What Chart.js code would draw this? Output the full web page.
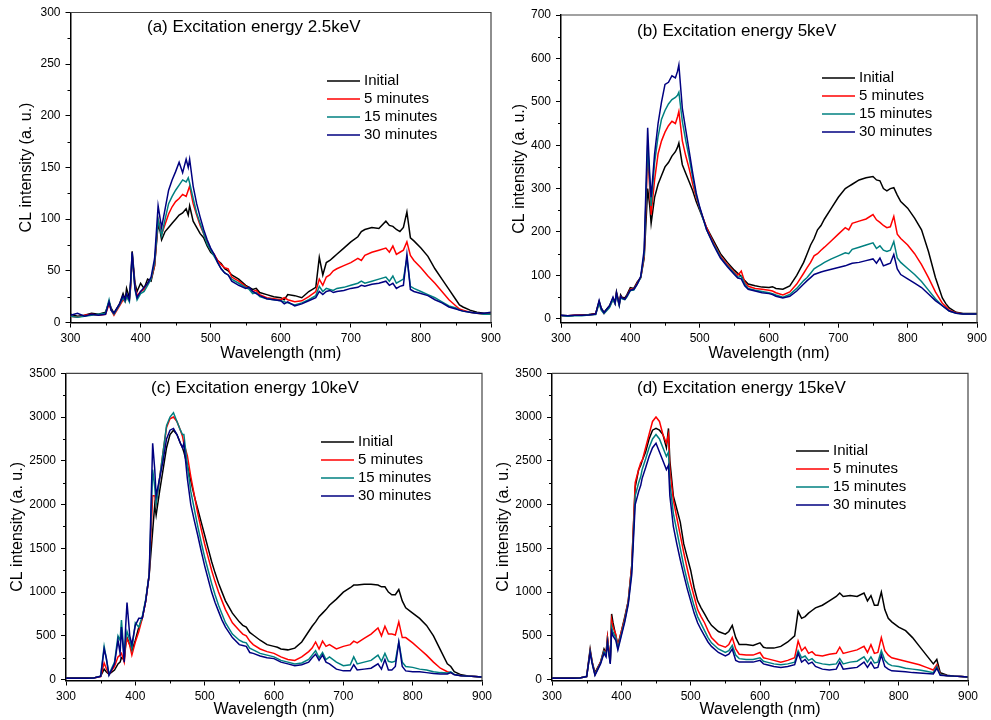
<!DOCTYPE html>
<html>
<head>
<meta charset="utf-8">
<title>CL spectra</title>
<script src="https://cdn.jsdelivr.net/npm/chart.js@4.4.1/dist/chart.umd.min.js"></script>
<style>
  body { margin: 0; background: #fff; }
  #wrap { position: relative; width: 991px; height: 720px; overflow: hidden; background: #fff; }
  #wrap canvas { position: absolute; }
</style>
</head>
<body>
<div id="wrap">
  <canvas id="panelA"></canvas>
  <canvas id="panelB"></canvas>
  <canvas id="panelC"></canvas>
  <canvas id="panelD"></canvas>
</div>
<script>
// Wavelength samples (nm), shared by all four panels
const wavelengths = [
  300, 310, 320, 330, 340, 350, 355, 358, 362, 370,
  375, 378, 380, 384, 386, 388, 392, 395, 400, 405,
  410, 415, 420, 425, 428, 430, 435, 440, 445, 450,
  455, 460, 465, 468, 470, 475, 480, 485, 490, 495,
  500, 505, 510, 515, 520, 525, 530, 540, 550, 555,
  560, 565, 570, 580, 590, 600, 605, 610, 620, 630,
  640, 650, 655, 660, 665, 670, 675, 680, 690, 700,
  710, 715, 720, 730, 740, 750, 755, 760, 765, 770,
  775, 780, 785, 790, 800, 810, 820, 830, 840, 850,
  855, 860, 870, 880, 890, 900
];

const seriesNames = ['Initial', '5 minutes', '15 minutes', '30 minutes'];
const seriesColors = ['#000000', '#ff0000', '#008080', '#000080'];

// tick labels
const xTicks = [300, 400, 500, 600, 700, 800, 900];
const yTicksA = [0, 50, 100, 150, 200, 250, 300];
const yTicksB = [0, 100, 200, 300, 400, 500, 600, 700];
const yTicksCD = [0, 500, 1000, 1500, 2000, 2500, 3000, 3500];

// (a) 2.5 keV
const initialA = [
  8, 6, 7, 9, 8, 10, 20, 14, 9, 18,
  28, 22, 33, 24, 40, 69, 38, 30, 38, 33,
  42, 40, 55, 95, 88, 80, 88, 92, 96, 100,
  104, 106, 110, 104, 113, 98, 92, 86, 82, 74,
  68, 65, 60, 57, 52, 50, 46, 42, 36, 34,
  32, 33, 29, 27, 25, 24, 22, 27, 26, 24,
  30, 34, 63, 46, 58, 60, 63, 66, 72, 78,
  83, 88, 90, 92, 91, 98, 94, 93, 90, 88,
  92, 107, 82, 79, 72, 64, 52, 42, 32, 22,
  17, 15, 12, 10, 9, 9
];
const fiveMinA = [
  6, 5, 7, 8, 7, 8, 18, 12, 7, 16,
  22, 20, 26, 22, 35, 65, 35, 26, 30, 32,
  38, 42, 55, 100, 92, 85, 95, 105, 112, 117,
  120, 124, 122, 128, 132, 115, 104, 94, 86, 78,
  70, 66, 60, 56, 53, 52, 44, 40, 35, 33,
  30, 31, 27, 24, 23, 22, 24, 22, 20, 21,
  25, 30, 42, 36, 44, 46, 50, 52, 55, 58,
  62, 60, 65, 68, 70, 72, 68, 74, 66, 68,
  70, 78, 65, 60, 53, 45, 38, 30, 22, 16,
  13, 12, 10, 9, 8, 8
];
const fifteenMinA = [
  6, 5, 6, 7, 8, 9, 22, 12, 8, 17,
  24, 20, 25, 20, 38, 66, 32, 22, 28, 30,
  36, 42, 58, 100, 90, 84, 100, 115, 122, 128,
  133, 138, 136, 140, 135, 120, 106, 96, 86, 76,
  70, 64, 58, 52, 48, 46, 42, 38, 34, 32,
  28, 29, 25, 23, 22, 21, 20, 19, 17, 19,
  22, 26, 35, 30, 33, 32, 31, 33, 34, 36,
  38, 40, 38, 40, 42, 44, 40, 45, 38, 40,
  42, 62, 35, 33, 30, 27, 24, 20, 16, 14,
  12, 11, 10, 9, 8, 8
];
const thirtyMinA = [
  7, 9, 6, 8, 7, 8, 20, 12, 9, 18,
  26, 22, 28, 22, 42, 68, 33, 24, 30, 34,
  38, 44, 62, 113, 100, 92, 110, 128, 138, 146,
  155, 145, 158, 150, 158, 132, 115, 102, 90, 80,
  72, 66, 58, 52, 48, 46, 40, 36, 33, 34,
  30, 28, 26, 23, 22, 21, 18, 20, 16, 18,
  21, 24, 30, 27, 30, 31, 29, 30, 31, 33,
  34, 36, 35, 37, 38, 40, 36, 38, 33, 35,
  36, 66, 32, 30, 28, 26, 22, 19, 15, 13,
  12, 11, 10, 9, 9, 10
];

// (b) 5 keV
const initialB = [
  8, 7, 8, 9, 10, 12, 40, 25, 15, 30,
  48, 38, 62, 35, 55, 50, 48, 55, 72, 70,
  85, 95, 140, 300, 260, 220, 280, 310, 330, 350,
  360, 375, 385, 395, 405, 355, 335, 315, 295, 270,
  250, 230, 210, 195, 180, 165, 150, 130, 112, 105,
  98, 88, 80, 76, 73, 72, 74, 70, 68, 76,
  100, 130, 150, 170, 185, 205, 215, 230, 255, 280,
  300, 305, 310, 320, 325, 328, 320, 318, 300, 295,
  300, 302, 285, 270, 255, 232, 205, 155, 95, 48,
  35, 25, 15, 12, 12, 12
];
const fiveMinB = [
  7, 7, 8, 8, 9, 11, 38, 22, 12, 28,
  45, 35, 58, 32, 52, 48, 45, 52, 68, 68,
  82, 95, 145, 380, 300, 240, 320, 380, 410, 430,
  445, 455, 450, 465, 478, 410, 375, 345, 310, 280,
  255, 232, 210, 192, 175, 160, 145, 125, 108, 100,
  110, 85, 75, 70, 68, 66, 64, 60, 55, 62,
  80, 105, 118, 130, 145, 150, 158, 165, 180, 195,
  210, 205, 220, 225, 230, 240, 228, 222, 215, 210,
  212, 236, 195, 185, 170, 150, 125, 95, 62, 36,
  28, 20, 14, 11, 11, 11
];
const fifteenMinB = [
  7, 6, 7, 7, 9, 10, 36, 20, 12, 26,
  44, 34, 56, 30, 50, 46, 44, 50, 65, 66,
  80, 95, 150, 400, 320, 260, 360, 420, 460, 480,
  495, 505, 510, 515, 522, 455, 410, 370, 325, 285,
  255, 230, 205, 188, 172, 158, 142, 122, 105, 96,
  98, 80, 70, 66, 63, 60, 58, 55, 50, 56,
  70, 88, 95, 105, 115, 120, 125, 130, 138, 145,
  152, 150, 160, 165, 170, 175, 162, 168, 158, 155,
  158, 178, 140, 130, 116, 102, 86, 66, 46, 30,
  24, 18, 13, 11, 11, 11
];
const thirtyMinB = [
  8, 7, 8, 8, 9, 11, 42, 24, 14, 30,
  50, 36, 60, 32, 52, 48, 45, 52, 66, 68,
  80, 98, 160, 440, 330, 280, 380, 450, 500, 540,
  545, 560, 555, 570, 585, 485, 435, 385, 335, 290,
  258, 232, 205, 188, 170, 155, 140, 120, 102, 94,
  92, 76, 68, 64, 60, 58, 56, 52, 48, 52,
  64, 80, 88, 95, 102, 105, 108, 110, 114, 118,
  122, 125, 128, 130, 134, 138, 128, 140, 122, 125,
  128, 148, 115, 102, 92, 82, 72, 57, 42, 30,
  24, 18, 13, 11, 11, 11
];

// (c) 10 keV
const initialC = [
  20, 20, 20, 20, 20, 40, 120, 90, 60, 110,
  180, 200, 250, 230, 400, 480, 400, 330, 450, 600,
  700, 900, 1200, 1700, 2000, 1880, 2150, 2400, 2650, 2800,
  2850, 2800, 2700, 2650, 2600, 2450, 2270, 2100, 1950, 1800,
  1650, 1500, 1350, 1220, 1100, 1000, 900, 760, 660, 620,
  600, 540, 510, 450, 400, 380, 370, 350, 340, 360,
  430, 550, 610, 660, 720, 760, 800, 850, 920, 1000,
  1050, 1080, 1080, 1090, 1090, 1080, 1060, 1060, 1000, 970,
  970, 1030, 900, 820, 760, 700, 620, 500, 340, 180,
  150, 90, 55, 42, 36, 30
];
const fiveMinC = [
  15, 15, 15, 15, 18, 35, 190, 130, 60, 150,
  260, 280, 300, 200, 380, 470, 390, 280, 430, 550,
  700, 900, 1200, 2100, 2100, 2000, 2300, 2600, 2880, 2980,
  3000, 2950, 2850, 2780, 2700, 2560, 2320, 2110, 1900, 1720,
  1550, 1400, 1250, 1120, 1000, 900, 800, 650, 560, 520,
  500, 440, 400, 350, 320, 300, 280, 260, 230, 220,
  260, 320, 360, 430, 350, 440, 380, 400, 350, 380,
  400, 440, 420, 470, 520, 590, 500, 610, 520, 520,
  510, 660, 480, 480, 420, 350, 280, 200, 130, 90,
  80, 60, 45, 40, 35, 30
];
const fifteenMinC = [
  15, 15, 15, 15, 18, 40, 380, 250, 60, 200,
  500, 450, 680, 250, 450, 550, 450, 350, 650, 600,
  720, 920, 1200, 2400, 2200, 2000, 2300, 2600, 2900, 3000,
  3050, 2950, 2850, 2800, 2800, 2450, 2150, 1950, 1750, 1570,
  1400, 1250, 1100, 970, 850, 750, 650, 520, 450, 430,
  420, 360, 340, 300, 280, 260, 240, 220, 200, 180,
  190, 230, 280, 330, 250, 310, 230, 260, 200, 160,
  170, 260, 180, 200, 220, 280, 210, 300, 210, 200,
  210, 430, 200, 150, 140, 120, 110, 90, 80, 75,
  90, 60, 45, 40, 35, 30
];
const thirtyMinC = [
  15, 15, 15, 15, 18, 38, 350, 250, 50, 180,
  450, 300, 600, 200, 600, 880, 500, 400, 620, 700,
  700, 900, 1200, 2700, 2400, 2100, 2300, 2500, 2750, 2850,
  2870, 2800, 2700, 2650, 2700, 2300, 2000, 1820, 1650, 1470,
  1300, 1150, 1000, 880, 780, 680, 600, 480, 400, 390,
  380, 310, 300, 270, 250, 240, 220, 200, 180, 160,
  170, 200, 250, 290, 220, 280, 200, 180, 120, 100,
  100, 170, 110, 120, 130, 180, 120, 230, 110, 110,
  150, 430, 150, 100, 90, 90, 80, 70, 65, 65,
  80, 55, 45, 40, 35, 30
];

// (d) 15 keV
const initialD = [
  20, 20, 20, 20, 20, 40, 350, 200, 80, 200,
  350, 300, 480, 200, 750, 650, 500, 400, 550, 720,
  900, 1300, 2200, 2400, 2450, 2500, 2600, 2750, 2850, 2870,
  2850, 2800, 2650, 2870, 2500, 2100, 1950, 1800, 1550, 1400,
  1250, 1050, 900, 820, 750, 680, 620, 550, 520, 550,
  620, 480, 400, 400, 390, 420, 370, 360, 360, 380,
  430, 500, 780, 700, 720, 760, 790, 820, 850, 900,
  950, 990, 950, 960, 950, 990, 900, 960, 850, 850,
  1000, 800, 700, 660, 600, 560, 480, 380, 280, 180,
  230, 80, 50, 40, 35, 30
];
const fiveMinD = [
  15, 15, 15, 15, 18, 35, 330, 200, 60, 200,
  330, 300, 480, 200, 680, 600, 520, 380, 550, 700,
  900, 1300, 2250, 2400, 2480, 2500, 2650, 2800, 2950, 3000,
  2950, 2800, 2700, 2800, 2400, 2050, 1850, 1650, 1450, 1270,
  1100, 950, 800, 720, 650, 560, 480, 400, 370, 400,
  480, 350, 290, 280, 280, 310, 250, 240, 220, 200,
  220, 250, 440, 330, 370, 300, 320, 280, 270, 290,
  300, 370, 300, 320, 340, 380, 310, 400, 300, 310,
  480, 330, 280, 250, 230, 210, 190, 170, 140, 110,
  170, 60, 45, 40, 35, 30
];
const fifteenMinD = [
  15, 15, 15, 15, 18, 35, 320, 190, 55, 190,
  320, 280, 440, 190, 600, 540, 480, 360, 520, 680,
  880, 1250, 2100, 2250, 2320, 2400, 2520, 2650, 2750, 2800,
  2750, 2650, 2550, 2600, 2250, 1900, 1700, 1500, 1300, 1130,
  980, 840, 720, 640, 560, 480, 420, 350, 310, 330,
  390, 280, 240, 230, 230, 250, 210, 200, 180, 170,
  180, 200, 330, 250, 270, 220, 240, 200, 180, 170,
  180, 240, 180, 200, 210, 260, 200, 260, 190, 200,
  330, 220, 180, 160, 150, 130, 120, 110, 95, 80,
  150, 55, 45, 40, 35, 30
];
const thirtyMinD = [
  15, 15, 15, 15, 18, 35, 310, 180, 50, 180,
  300, 260, 420, 180, 550, 500, 450, 340, 500, 660,
  860, 1200, 2000, 2150, 2220, 2300, 2420, 2550, 2650, 2700,
  2600, 2500, 2400, 2450, 2100, 1750, 1550, 1370, 1200, 1040,
  900, 760, 650, 570, 500, 430, 380, 310, 270, 290,
  350, 220, 200, 200, 200, 220, 180, 170, 150, 140,
  150, 170, 300, 200, 230, 180, 200, 150, 120, 110,
  120, 200, 120, 130, 140, 200, 140, 200, 130, 140,
  280, 150, 120, 100, 95, 90, 80, 75, 70, 65,
  130, 50, 45, 40, 35, 30
];

// Panel layout: canvas box and plot area, in page pixels
const panels = [
  { id: 'panelA', title: '(a) Excitation energy 2.5keV',
    series: [initialA, fiveMinA, fifteenMinA, thirtyMinA],
    yMin: 0, yMax: 300, yTicks: yTicksA,
    box: { left: 0, top: 0, width: 520, height: 370 },
    area: { l: 70.5, t: 12.5, r: 491, b: 322.5 },
    yTitlePad: 17, xTitlePad: 7, titleAt: [76.5, 14.5], legendAt: [256.5, 68.5] },
  { id: 'panelB', title: '(b) Excitation energy 5keV',
    series: [initialB, fiveMinB, fifteenMinB, thirtyMinB],
    yMin: -9, yMax: 700, yTicks: yTicksB,
    box: { left: 490, top: 0, width: 501, height: 370 },
    area: { l: 561, t: 15, r: 977, b: 322.7 },
    yTitlePad: 20, xTitlePad: 7, titleAt: [76, 16], legendAt: [261, 63] },
  { id: 'panelC', title: '(c) Excitation energy 10keV',
    series: [initialC, fiveMinC, fifteenMinC, thirtyMinC],
    yMin: -10, yMax: 3500, yTicks: yTicksCD,
    box: { left: 0, top: 360, width: 520, height: 360 },
    area: { l: 66, t: 373.3, r: 482, b: 680.5 },
    yTitlePad: 8, xTitlePad: 0.5, titleAt: [85, 14.7], legendAt: [255, 68.7] },
  { id: 'panelD', title: '(d) Excitation energy 15keV',
    series: [initialD, fiveMinD, fifteenMinD, thirtyMinD],
    yMin: -10, yMax: 3500, yTicks: yTicksCD,
    box: { left: 490, top: 360, width: 501, height: 360 },
    area: { l: 552, t: 373.3, r: 968, b: 680.5 },
    yTitlePad: 4, xTitlePad: 0.5, titleAt: [85, 14.7], legendAt: [244, 77.7] }
];

const FONT = '"Liberation Sans", Arial, sans-serif';
Chart.defaults.font.family = FONT;
Chart.defaults.color = '#000';

// midpoints between major ticks
function minorValues(ticks) {
  const out = [];
  for (let i = 1; i < ticks.length; i++) out.push((ticks[i - 1] + ticks[i]) / 2);
  return out;
}

// Frame on top/right, minor ticks, panel title and in-plot legend
const panelDecor = {
  id: 'panelDecor',
  afterDraw(chart, args, opts) {
    const { ctx, chartArea: a } = chart;
    const xs = chart.scales.x, ys = chart.scales.y;
    ctx.save();
    ctx.strokeStyle = '#444';
    ctx.lineWidth = 1.2;
    ctx.beginPath();
    ctx.moveTo(a.left, a.top);
    ctx.lineTo(a.right, a.top);
    ctx.lineTo(a.right, a.bottom);
    ctx.stroke();

    // minor ticks, outward
    ctx.strokeStyle = '#000';
    ctx.lineWidth = 1;
    ctx.beginPath();
    minorValues(xTicks).forEach(v => {
      const px = Math.round(xs.getPixelForValue(v)) + 0.5;
      ctx.moveTo(px, a.bottom);
      ctx.lineTo(px, a.bottom + 3);
    });
    minorValues(opts.yTicks).forEach(v => {
      const py = Math.round(ys.getPixelForValue(v)) + 0.5;
      ctx.moveTo(a.left, py);
      ctx.lineTo(a.left - 3, py);
    });
    ctx.stroke();

    // panel title
    ctx.fillStyle = '#000';
    ctx.textBaseline = 'middle';
    ctx.textAlign = 'left';
    ctx.font = '17px ' + FONT;
    ctx.fillText(opts.title, a.left + opts.titleAt[0], a.top + opts.titleAt[1]);

    // legend
    ctx.font = '15px ' + FONT;
    chart.data.datasets.forEach((ds, i) => {
      const x0 = a.left + opts.legendAt[0];
      const y0 = a.top + opts.legendAt[1] + i * 18;
      ctx.strokeStyle = ds.borderColor;
      ctx.lineWidth = 1.6;
      ctx.beginPath();
      ctx.moveTo(x0, y0);
      ctx.lineTo(x0 + 33, y0);
      ctx.stroke();
      ctx.fillText(ds.label, x0 + 37, y0);
    });
    ctx.restore();
  }
};

function zeroPadding(scale) {
  scale.paddingLeft = 0;
  scale.paddingRight = 0;
  scale.paddingTop = 0;
  scale.paddingBottom = 0;
}

function buildPanel(p) {
  const canvas = document.getElementById(p.id);
  canvas.width = p.box.width;
  canvas.height = p.box.height;
  canvas.style.left = p.box.left + 'px';
  canvas.style.top = p.box.top + 'px';

  const yWidth = p.area.l - p.box.left;
  const xHeight = p.box.top + p.box.height - p.area.b;

  const datasets = p.series.map((values, i) => {
    if (values.length !== wavelengths.length) {
      console.error(p.id, seriesNames[i], 'length', values.length);
    }
    return {
      label: seriesNames[i],
      data: wavelengths.map((w, k) => ({ x: w, y: values[k] })),
      borderColor: seriesColors[i],
      borderWidth: 1.5,
      pointRadius: 0,
      tension: 0,
      order: seriesNames.length - i  // later series drawn on top
    };
  });

  return new Chart(canvas, {
    type: 'line',
    data: { datasets },
    options: {
      responsive: false,
      animation: false,
      devicePixelRatio: 1,
      events: [],
      layout: {
        padding: {
          left: 0,
          top: p.area.t - p.box.top,
          right: p.box.left + p.box.width - p.area.r,
          bottom: 0
        }
      },
      plugins: {
        legend: { display: false },
        tooltip: { enabled: false },
        panelDecor: { title: p.title, yTicks: p.yTicks, titleAt: p.titleAt, legendAt: p.legendAt }
      },
      scales: {
        x: {
          type: 'linear',
          min: 300,
          max: 900,
          border: { color: '#000', width: 1.5 },
          grid: { drawOnChartArea: false, tickLength: 5, tickColor: '#000', tickWidth: 1 },
          ticks: { padding: 4, maxRotation: 0, autoSkip: false, font: { size: 12 }, color: '#000' },
          afterBuildTicks(scale) { scale.ticks = xTicks.map(v => ({ value: v })); },
          title: { display: true, text: 'Wavelength (nm)', font: { size: 16 }, color: '#000', padding: { top: 0, bottom: p.xTitlePad } },
          afterFit(scale) { scale.height = xHeight; zeroPadding(scale); }
        },
        y: {
          type: 'linear',
          min: p.yMin,
          max: p.yMax,
          border: { color: '#000', width: 1.5 },
          grid: { drawOnChartArea: false, tickLength: 5, tickColor: '#000', tickWidth: 1 },
          ticks: { padding: 5, autoSkip: false, font: { size: 12 }, color: '#000', callback: v => String(v) },
          afterBuildTicks(scale) { scale.ticks = p.yTicks.map(v => ({ value: v })); },
          title: { display: true, text: 'CL intensity (a. u.)', font: { size: 16 }, color: '#000', padding: { top: p.yTitlePad, bottom: 0 } },
          afterFit(scale) { scale.width = yWidth; zeroPadding(scale); }
        }
      }
    },
    plugins: [panelDecor]
  });
}

panels.forEach(buildPanel);
</script>
</body>
</html>
